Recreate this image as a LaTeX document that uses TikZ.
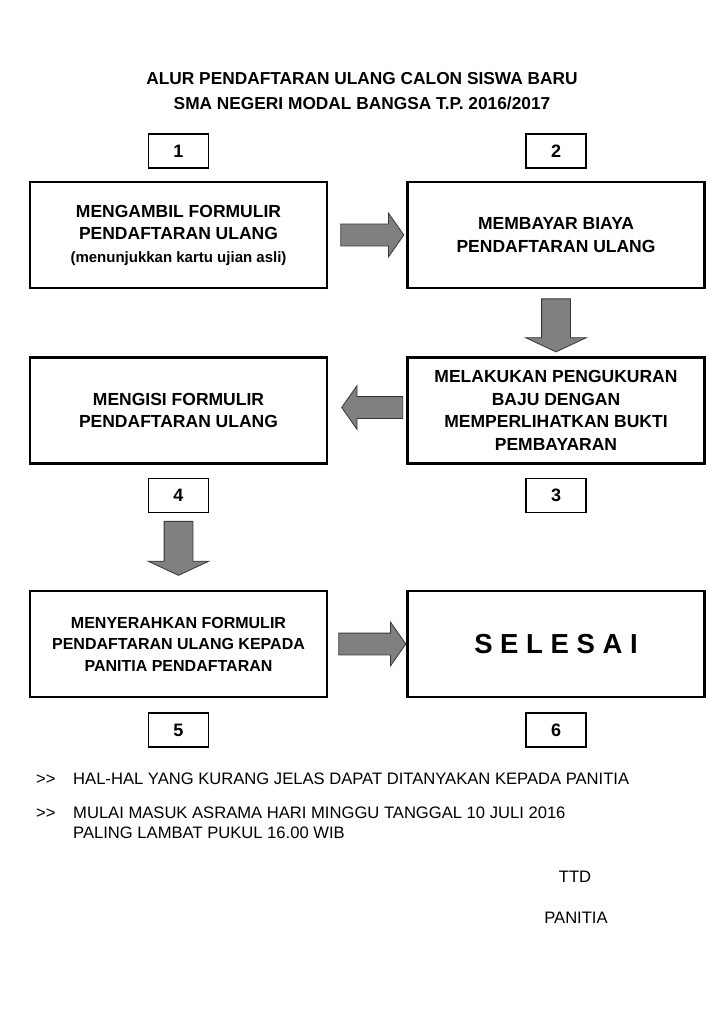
\documentclass[tikz,border=0pt]{standalone}
\usepackage{fontspec}
\setmainfont{Liberation Sans}
\usepackage{tikz}
\usetikzlibrary{positioning,shapes.arrows,calc}
\definecolor{ArrowGray}{RGB}{128,128,128}
\definecolor{ArrowEdge}{RGB}{55,55,55}

\begin{document}
\begin{tikzpicture}[
  x=1pt, y=-1pt,
  box/.style={draw, line width=2.4pt, minimum width=297pt, minimum height=106pt,
    align=center, inner sep=0pt, font=\fontsize{17.5}{22.5}\selectfont\bfseries},
  numbox/.style={draw, line width=1.4pt, minimum width=60pt, minimum height=34pt,
    inner sep=0pt, font=\fontsize{18}{22}\selectfont\bfseries},
  bigarrow/.style={single arrow, draw=ArrowEdge, fill=ArrowGray, line width=0.8pt,
    single arrow head indent=0pt, anchor=tip},
  harrow/.style={bigarrow, inner xsep=0pt, inner ysep=10.5pt,
    single arrow head extend=11pt, single arrow tip angle=110},
  varrow/.style={bigarrow, inner xsep=14pt, inner ysep=0pt,
    single arrow head extend=16pt, single arrow tip angle=130, shape border rotate=270},
  note/.style={anchor=base west, inner sep=0pt, font=\fontsize{16.6}{20}\selectfont},
]
\useasboundingbox (0,0) rectangle (724,1024);

% title
\node[align=center, font=\fontsize{17.3}{25}\selectfont\bfseries] (title) at (362,91)
  {ALUR PENDAFTARAN ULANG CALON SISWA BARU\\SMA NEGERI MODAL BANGSA T.P. 2016/2017};

% steps
\node[box] (s1) at (178.5,235) {MENGAMBIL FORMULIR\\PENDAFTARAN ULANG\\
  {\fontsize{15}{21}\selectfont (menunjukkan kartu ujian asli)}};
\node[box] (s2) at (556,235) {MEMBAYAR BIAYA\\PENDAFTARAN ULANG};
\node[box] (s3) at (556,410.5) {MELAKUKAN PENGUKURAN\\BAJU DENGAN\\MEMPERLIHATKAN BUKTI\\PEMBAYARAN};
\node[box] (s4) at (178.5,410.5) {MENGISI FORMULIR\\PENDAFTARAN ULANG};
\node[box, font=\fontsize{16}{21.5}\selectfont\bfseries] (s5) at (178.5,644)
  {MENYERAHKAN FORMULIR\\PENDAFTARAN ULANG KEPADA\\PANITIA PENDAFTARAN};
\node[box, font=\fontsize{27.5}{30}\selectfont\bfseries] (s6) at (556,644) {S E L E S A I};

% step numbers
\node[numbox, above=12pt of s1] (n1) {1};
\node[numbox, above=12pt of s2] (n2) {2};
\node[numbox, below=13pt of s3] (n3) {3};
\node[numbox, below=13pt of s4] (n4) {4};
\node[numbox, below=14pt of s5] (n5) {5};
\node[numbox, below=14pt of s6] (n6) {6};

% block arrows
\node[harrow, minimum height=63pt] (a12) at ([xshift=-2pt]s2.west) {};
\node[varrow, minimum height=53pt] (a23) at ([yshift=4pt]s3.north) {};
\node[harrow, minimum height=61pt, shape border rotate=180] (a34)
  at ([xshift=13pt,yshift=3pt]s4.east) {};
\node[varrow, minimum height=54pt] (a45) at ([yshift=14pt]s5.north) {};
\node[harrow, minimum height=67pt] (a56) at (s6.west) {};

% notes
\node[note] (m1) at (36,784) {>\kern0pt>};
\node[note] (t1) at (73,784) {HAL-HAL YANG KURANG JELAS DAPAT DITANYAKAN KEPADA PANITIA};
\node[note] (m2) at (36,818) {>\kern0pt>};
\node[note] (t2) at (73,818) {MULAI MASUK ASRAMA HARI MINGGU TANGGAL 10 JULI 2016};
\node[note] (t3) at (73,838) {PALING LAMBAT PUKUL 16.00 WIB};
\node[note, anchor=base] (ttd) at (575,882) {TTD};
\node[note, anchor=base] (sign) at (576,923) {PANITIA};
\end{tikzpicture}
\end{document}
